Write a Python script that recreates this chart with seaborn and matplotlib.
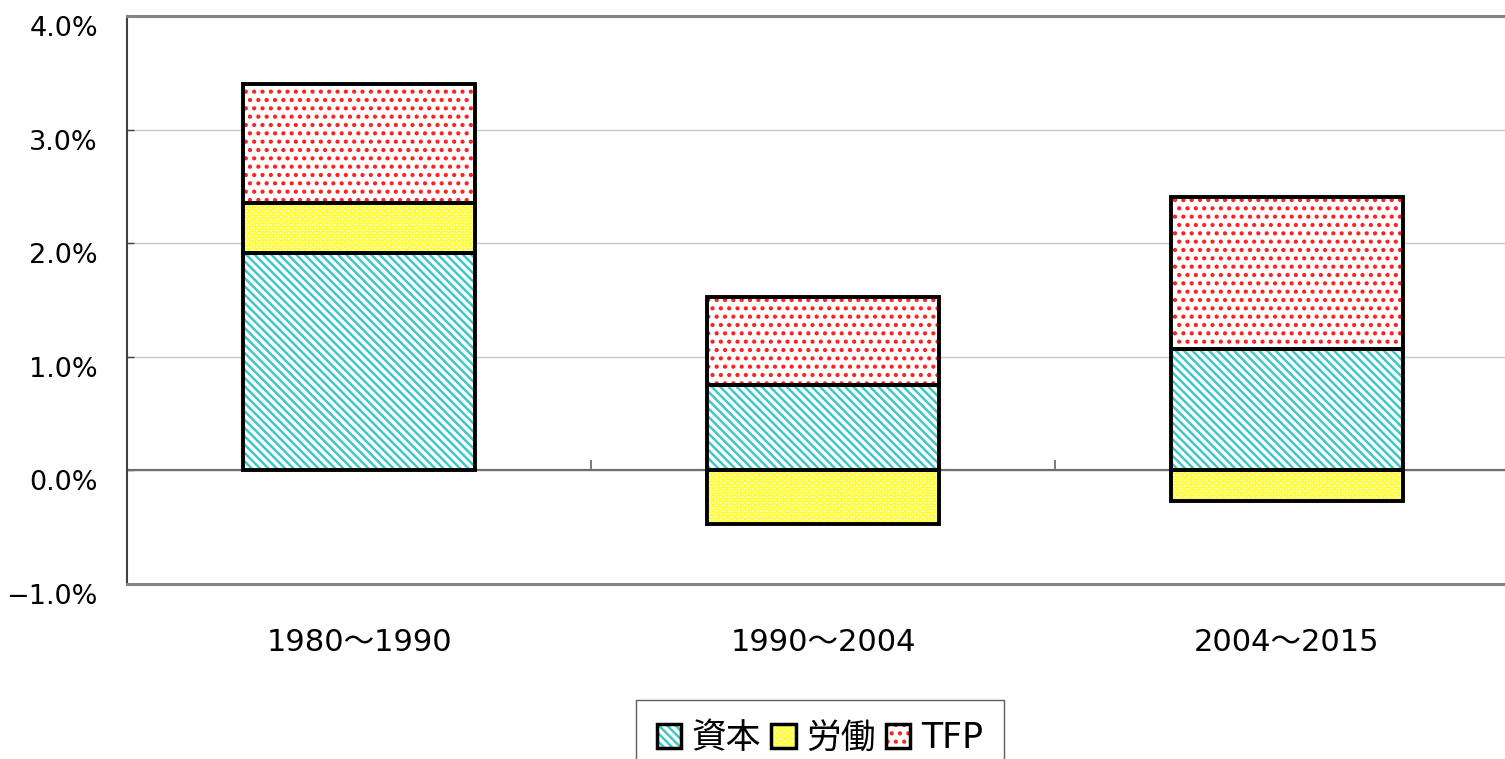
import numpy as np
import pandas as pd
import matplotlib
matplotlib.use("Agg")
import matplotlib.pyplot as plt
import matplotlib.transforms as mtransforms
from matplotlib.patches import Patch
from matplotlib.ticker import FuncFormatter
import seaborn as sns

# Growth accounting data (%)
periods = ['1980～1990', '1990～2004', '2004～2015']
capital = [1.91, 0.75, 1.07]
labor = [0.44, -0.47, -0.27]
tfp = [1.05, 0.78, 1.34]

series_names = ['資本', '労働', 'TFP']
hatch_colors = ['#40C8C8', '#FFFF00', '#FF2020']
hatches = ['\\\\\\\\', '......', '..']

sns.set_style("white")
plt.rcParams['font.family'] = ['DejaVu Sans', 'Noto Sans CJK JP']
plt.rcParams['hatch.linewidth'] = 1.8
plt.rcParams['text.color'] = 'black'


def stack_bottoms(values_list):
    """Positive values stack upward from 0, negative ones downward."""
    pos = np.zeros(len(values_list[0]))
    neg = np.zeros(len(values_list[0]))
    bottoms = []
    for vals in values_list:
        vals = np.asarray(vals, dtype=float)
        b = np.where(vals >= 0, pos, neg)
        bottoms.append(b)
        pos = pos + np.clip(vals, 0, None)
        neg = neg + np.clip(vals, None, 0)
    return bottoms


fig = plt.figure(figsize=(15.05, 7.59), dpi=100)
ax = fig.add_axes([127 / 1505, 1 - 584 / 759, 3 * 464 / 1505, (584 - 16) / 759])

values = [capital, labor, tfp]
bottoms = stack_bottoms(values)

for vals, bot, col, hat in zip(values, bottoms, hatch_colors, hatches):
    df = pd.DataFrame({'period': periods, 'value': vals})
    # hatched fill
    sns.barplot(data=df, x='period', y='value', order=periods, color='white',
                width=0.5, errorbar=None, bottom=bot, hatch=hat,
                edgecolor=col, linewidth=0, ax=ax, zorder=2)
    # black outline
    sns.barplot(data=df, x='period', y='value', order=periods, color='white',
                width=0.5, errorbar=None, bottom=bot, facecolor='none',
                edgecolor='black', linewidth=2.8, ax=ax, zorder=3)

ax.set_xlim(-0.5, len(periods) - 0.5)
ax.set_ylim(-1, 4)
ax.set_yticks([-1, 0, 1, 2, 3, 4])
ax.yaxis.set_major_formatter(FuncFormatter(lambda v, p: f"{v:.1f}%".replace('-', '\u2212')))
ax.set_xlabel('')
ax.set_ylabel('')

# grid and zero line
ax.set_axisbelow(True)
ax.yaxis.grid(True, color='#c8c8c8', linewidth=1)
ax.axhline(0, color='#707070', linewidth=1.6, zorder=1)
ax.vlines(np.arange(1, len(periods)) - 0.5, 0, 0.09, color='#707070', linewidth=1.3)

for side in ['top', 'bottom']:
    ax.spines[side].set_color('#858585')
    ax.spines[side].set_linewidth(2.2)
ax.spines['left'].set_color('#404040')
ax.spines['left'].set_linewidth(1.5)
ax.spines['right'].set_visible(False)

ax.tick_params(axis='y', direction='in', length=5, width=1, color='#404040',
               labelsize=19.5, labelcolor='black', pad=21, left=True)
ax.tick_params(axis='x', length=0, labelsize=22, labelcolor='black', pad=32)

# shift y labels down a bit, as in the reference
offset = mtransforms.ScaledTranslation(0, -0.10, fig.dpi_scale_trans)
for lbl in ax.get_yticklabels():
    lbl.set_transform(lbl.get_transform() + offset)

# legend
handles = []
for col, hat in zip(hatch_colors, hatches):
    fill = Patch(facecolor='white', edgecolor=col, hatch=hat, linewidth=0)
    border = Patch(facecolor='none', edgecolor='black', linewidth=2.5)
    handles.append((fill, border))
leg = fig.legend(handles, series_names, loc='upper left',
                 bbox_to_anchor=(636 / 1505, 1 - 700 / 759), bbox_transform=fig.transFigure,
                 ncol=3, fontsize=25, frameon=True, fancybox=False, borderaxespad=0,
                 handlelength=0.7, handleheight=0.7, handletextpad=0.3,
                 columnspacing=0.3, borderpad=0.6)
leg.get_frame().set_edgecolor('#333333')
leg.get_frame().set_linewidth(1)

plt.savefig("out.png", dpi=100)
